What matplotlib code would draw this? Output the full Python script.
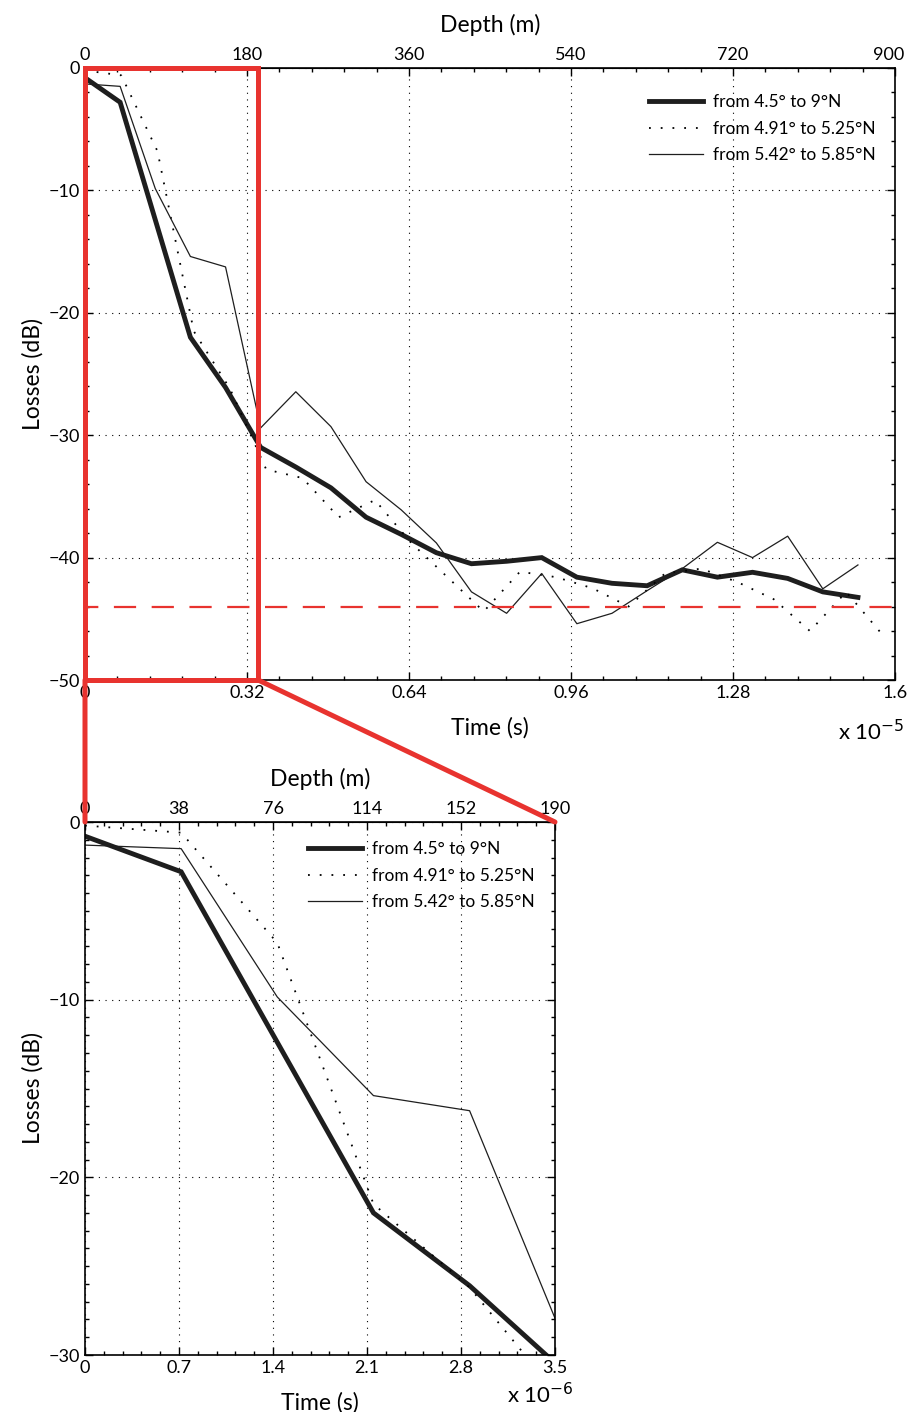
import matplotlib
matplotlib.use('Agg')
import matplotlib.pyplot as plt
from matplotlib import font_manager
from matplotlib.patches import Rectangle, ConnectionPatch
from matplotlib.ticker import MultipleLocator, FixedLocator, FuncFormatter
from matplotlib.transforms import ScaledTranslation

# --- data -------------------------------------------------------------
# sample times (s); thick/thin series use one step, dotted another
time_a = [0, 0.694, 1.388, 2.082, 2.776, 3.47, 4.164, 4.858, 5.552, 6.246,
          6.94, 7.634, 8.328, 9.022, 9.716, 10.41, 11.104, 11.798, 12.492,
          13.186, 13.88, 14.574, 15.268]
time_b = [0, 0.716, 1.432, 2.148, 2.864, 3.58, 4.296, 5.012, 5.728, 6.444,
          7.16, 7.876, 8.592, 9.308, 10.024, 10.74, 11.456, 12.172, 12.888,
          13.604, 14.32, 15.036, 15.752]
time_a = [t * 1e-6 for t in time_a]
time_b = [t * 1e-6 for t in time_b]

loss_wide = [-0.8, -2.8, -12.4, -22.0, -26.1, -31.0, -32.6, -34.3, -36.7,
             -38.1, -39.6, -40.5, -40.3, -40.0, -41.6, -42.1, -42.3, -41.0,
             -41.6, -41.2, -41.7, -42.8, -43.25]
loss_mid = [-0.2, -0.6, -6.8, -21.5, -26.2, -32.8, -33.5, -36.7, -35.3,
            -38.8, -41.6, -44.4, -41.15, -41.6, -42.5, -44.0, -41.3, -40.9,
            -42.0, -43.4, -46.0, -42.8, -46.3]
loss_north = [-1.3, -1.5, -9.85, -15.4, -16.25, -29.4, -26.45, -29.3, -33.8,
              -36.1, -38.8, -42.8, -44.55, -41.3, -45.4, -44.55, -42.7, -40.9,
              -38.75, -40.0, -38.25, -42.55, -40.6]
n_zoom = 6  # samples shown in the zoomed panel

labels = ['from 4.5° to 9°N', 'from 4.91° to 5.25°N', 'from 5.42° to 5.85°N']
noise_floor = -44.0

# depth axis: 900 m <-> 1.6e-5 s on top panel, 190 m <-> 3.5e-6 s below
depth_ticks_top = [0, 180, 360, 540, 720, 900]
depth_ticks_zoom = [0, 38, 76, 114, 152, 190]
t_max_top = 1.6e-5
t_max_zoom = 3.5e-6

# --- style -------------------------------------------------------------
names = {f.name for f in font_manager.fontManager.ttflist}
label_font = 'Lato' if 'Lato' in names else 'DejaVu Sans'
tick_font = 'Liberation Sans Narrow' if 'Liberation Sans Narrow' in names else label_font
plt.rcParams['font.family'] = [label_font, 'DejaVu Sans']

RED = '#e8332f'
DARK = '#1e1e1e'
grid_style = dict(linestyle=(0, (1, 5)), color='k', linewidth=0.8)


def style_axes(ax, xmajor, ymajor, yminor, scale, ylim, xlim):
    ax.set_xlim(*xlim)
    ax.set_ylim(*ylim)
    ax.xaxis.set_major_locator(MultipleLocator(xmajor))
    ax.xaxis.set_minor_locator(MultipleLocator(xmajor / 5))
    ax.yaxis.set_major_locator(MultipleLocator(ymajor))
    ax.yaxis.set_minor_locator(MultipleLocator(yminor))
    ax.xaxis.set_major_formatter(FuncFormatter(lambda v, p: f'{v / scale:.3g}'))
    ax.tick_params(which='both', direction='in', right=True, top=False,
                   labelsize=13, width=1)
    ax.tick_params(which='major', length=6)
    ax.tick_params(which='minor', length=3)
    for lab in ax.get_xticklabels() + ax.get_yticklabels():
        lab.set_fontfamily(tick_font)
    for sp in ax.spines.values():
        sp.set_linewidth(1.2)
    ax.grid(True, which='major', **grid_style)
    ax.set_xlabel('Time (s)', fontsize=16.5, labelpad=12)
    ax.set_ylabel('Losses (dB)', fontsize=16.5, labelpad=4)


def add_depth_axis(ax, ticks, t_max):
    k = ticks[-1] / t_max
    step = ticks[1] / 5
    minor = [i * step for i in range(int(round(ticks[-1] / step)) + 1)]
    sec = ax.secondary_xaxis('top', functions=(lambda t: t * k, lambda d: d / k))
    sec.xaxis.set_major_locator(FixedLocator(ticks))
    sec.xaxis.set_minor_locator(FixedLocator(minor))
    sec.xaxis.set_major_formatter(FuncFormatter(lambda v, p: f'{v:g}'))
    sec.tick_params(which='both', direction='in', labelsize=13, width=1)
    sec.tick_params(which='major', length=6)
    sec.tick_params(which='minor', length=3)
    for lab in sec.get_xticklabels():
        lab.set_fontfamily(tick_font)
    sec.set_xlabel('Depth (m)', fontsize=16.5, labelpad=11)
    return sec


def draw_series(ax, ta, tb, wide, mid, north, anchor):
    ax.plot(ta, wide, color=DARK, lw=3.5, label=labels[0], solid_joinstyle='miter')
    ax.plot(tb, mid, color='k', lw=1.3, linestyle=(0, (1, 5.5)), label=labels[1])
    ax.plot(ta, north, color=DARK, lw=0.9, label=labels[2])
    ax.legend(loc='upper right', bbox_to_anchor=anchor, frameon=False,
              fontsize=12.5, handlelength=3.1, handletextpad=0.6,
              labelspacing=0.62, borderaxespad=0)


fig = plt.figure(figsize=(9.08, 14.12), dpi=100)
ax_top = fig.add_axes([85 / 908, 1 - 680 / 1412, 810 / 908, 612 / 1412])
ax_zoom = fig.add_axes([85 / 908, 1 - 1355 / 1412, 470 / 908, 533 / 1412])

# top panel
draw_series(ax_top, time_a, time_b, loss_wide, loss_mid, loss_north,
            (1 - 12 / 810, 1 - 19 / 612))
ax_top.axhline(noise_floor, color=RED, lw=1.6, linestyle=(4, (10, 7)), zorder=3)
style_axes(ax_top, 3.2e-6, 10, 2, 1e-5, (-50, 0), (0, t_max_top))
sec_top = add_depth_axis(ax_top, depth_ticks_top, t_max_top)
ax_top.text(1.012, -0.085, r'x 10$^{-5}$', transform=ax_top.transAxes,
            ha='right', va='center', fontsize=16)

# zoomed panel
draw_series(ax_zoom, time_b[:n_zoom], time_b[:n_zoom], loss_wide[:n_zoom],
            loss_mid[:n_zoom], loss_north[:n_zoom], (1 - 13 / 470, 1 - 12 / 533))
style_axes(ax_zoom, 0.7e-6, 10, 1, 1e-6, (-30, 0), (0, t_max_zoom))
add_depth_axis(ax_zoom, depth_ticks_zoom, t_max_zoom)
ax_zoom.text(1.04, -0.075, r'x 10$^{-6}$', transform=ax_zoom.transAxes,
             ha='right', va='center', fontsize=16)

# red zoom box and connectors
box_t = 3.42e-6
ax_top.add_patch(Rectangle((0, -50), box_t, 50, fill=False, edgecolor=RED,
                           lw=3.6, clip_on=False, zorder=6))
for xa, xb in [(0, 0), (box_t, t_max_zoom)]:
    con = ConnectionPatch(xyA=(xa, -50), coordsA=ax_top.transData,
                          xyB=(xb, 0), coordsB=ax_zoom.transData,
                          color=RED, lw=3.6, zorder=6)
    fig.add_artist(con)

# keep the last depth label inside the figure edge
fig.canvas.draw()
for lab in sec_top.get_xticklabels():
    if lab.get_text() == '900':
        lab.set_transform(lab.get_transform() +
                          ScaledTranslation(-6 / 100, 0, fig.dpi_scale_trans))

fig.savefig('out.png', dpi=100, facecolor='white')
